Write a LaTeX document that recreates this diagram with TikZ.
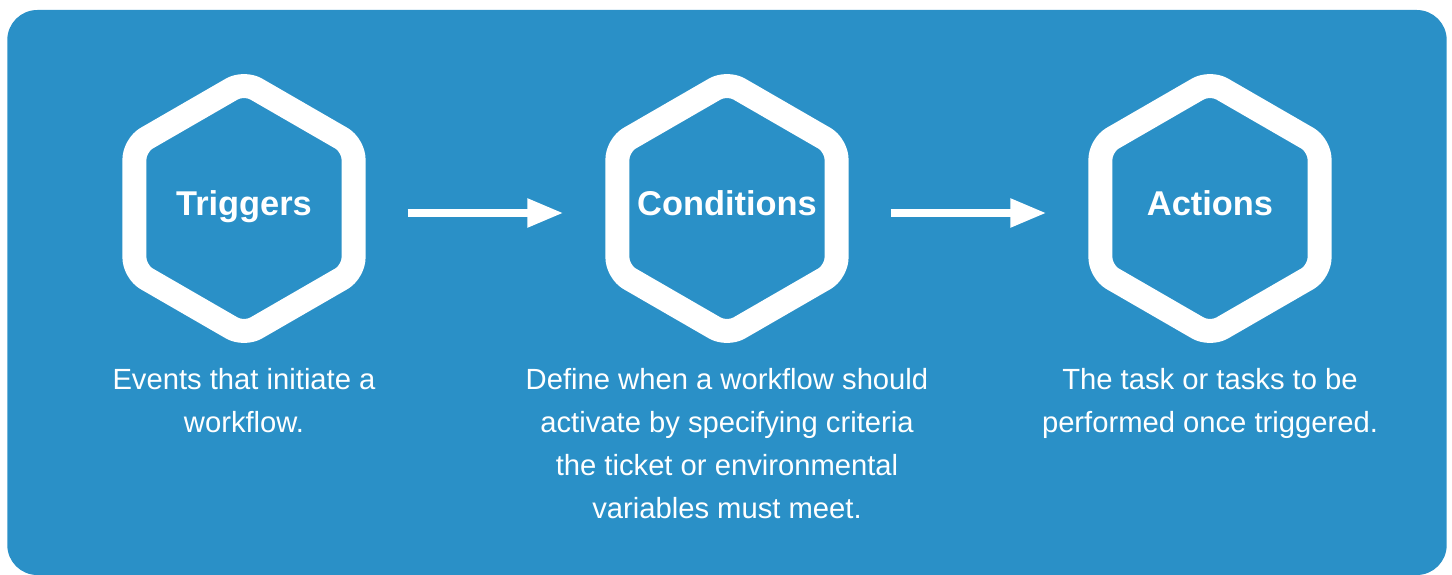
\documentclass[tikz,border=0pt]{standalone}
\usepackage{fontspec}
\setmainfont{Liberation Sans}
\usetikzlibrary{shapes.geometric,arrows.meta}
\definecolor{panelblue}{RGB}{42,144,199}

\begin{document}
\begin{tikzpicture}[x=1pt,y=-1pt,
  hexa/.style={regular polygon, regular polygon sides=6, shape border rotate=30,
    minimum size=253pt, inner xsep=-60pt, inner ysep=0pt, outer sep=0pt,
    draw=white, line width=24pt, rounded corners=14pt, line join=round, text=white,
    font=\fontsize{34.4}{40}\selectfont\bfseries, text height=24pt, text depth=11pt},
  desc/.style={anchor=north, inner sep=0pt, align=center, text=white,
    font=\fontsize{29.2}{43}\selectfont},
  flow/.style={white, line width=8pt, -{Triangle[length=36pt,width=27pt]},
    shorten <=54pt, shorten >=54pt}]
\useasboundingbox (0,0) rectangle (1452,575);
\fill[panelblue, rounded corners=30pt] (7.3,10) rectangle (1446.7,575);
% steps
\node[hexa] (trig) at (244,208.5) {Triggers};
\node[hexa] (cond) at (727,208.5) {Conditions};
\node[hexa] (act) at (1210,208.5) {Actions};
\draw[flow] ([yshift=-4.5pt]trig.east) -- ([yshift=-4.5pt]cond.west);
\draw[flow] ([yshift=-4.5pt]cond.east) -- ([yshift=-4.5pt]act.west);
% descriptions
\node[desc] (trigtext) at (244,368.5) {Events that initiate a\\workflow.};
\node[desc] (condtext) at (727,368.5) {Define when a workflow should\\activate by specifying criteria\\the ticket or environmental\\variables must meet.};
\node[desc] (acttext) at (1210,368.5) {The task or tasks to be\\performed once triggered.};
\end{tikzpicture}
\end{document}
